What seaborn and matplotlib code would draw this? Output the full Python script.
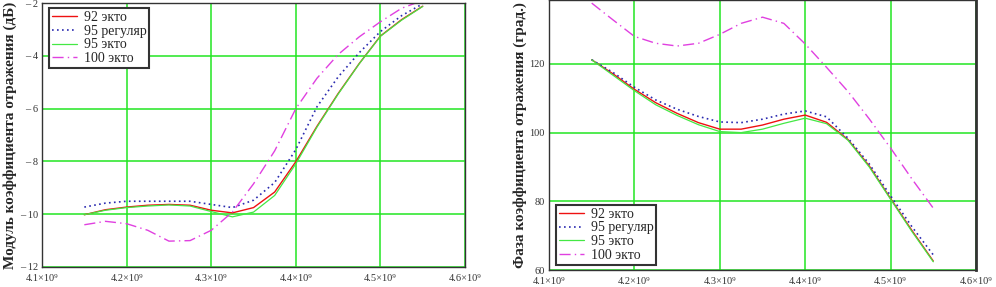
import numpy as np
import pandas as pd
import matplotlib
matplotlib.use("Agg")
import matplotlib.pyplot as plt
from matplotlib.ticker import FuncFormatter, MultipleLocator
import seaborn as sns

# frequency grid (Hz)
freq = np.array([4.15, 4.175, 4.2, 4.225, 4.25, 4.275, 4.3, 4.325, 4.35,
                 4.375, 4.4, 4.425, 4.45, 4.475, 4.5, 4.525, 4.55]) * 1e9

# modulus of reflection coefficient (dB)
mag_92_ecto = [-10.02, -9.83, -9.73, -9.66, -9.63, -9.66, -9.85, -9.95, -9.75,
               -9.16, -8.01, -6.67, -5.43, -4.29, -3.25, -2.63, -2.12]
mag_95_reg = [-9.73, -9.58, -9.51, -9.51, -9.51, -9.51, -9.63, -9.75, -9.47,
              -8.80, -7.55, -5.93, -4.80, -3.88, -3.08, -2.48, -2.03]
mag_95_ecto = [-10.02, -9.85, -9.75, -9.69, -9.65, -9.69, -9.90, -10.10, -9.92,
               -9.29, -8.09, -6.70, -5.45, -4.30, -3.26, -2.65, -2.13]
mag_100_ecto = [-10.40, -10.27, -10.36, -10.61, -11.02, -11.00, -10.61, -9.92, -8.85,
                -7.60, -6.00, -4.85, -3.95, -3.28, -2.71, -2.20, -1.90]

# phase of reflection coefficient (deg)
ph_92_ecto = [121.2, 117.1, 112.6, 108.7, 105.6, 102.9, 101.0, 101.0, 102.2,
              103.9, 105.1, 103.0, 98.0, 90.3, 80.8, 71.5, 62.6]
ph_95_reg = [121.2, 117.5, 113.2, 109.5, 106.8, 104.7, 103.1, 102.9, 103.9,
             105.4, 106.3, 104.6, 98.4, 90.9, 81.6, 72.6, 64.4]
ph_95_ecto = [121.2, 116.7, 112.2, 108.1, 105.0, 102.3, 100.3, 100.0, 101.0,
              102.7, 104.2, 102.6, 97.8, 90.0, 80.6, 71.2, 62.4]
ph_100_ecto = [137.7, 132.8, 128.0, 126.0, 125.2, 126.0, 128.6, 131.8, 133.6,
               131.8, 125.8, 119.0, 112.0, 104.0, 95.5, 86.5, 78.0]

labels = ['92 экто', '95 регуляр', '95 экто', '100 экто']
colors = ['#ee1111', '#2a2ab0', '#44e844', '#e040e0']
styles = ['-', (0, (1, 2)), '-', (0, (8, 3, 1, 3))]
widths = [1.0, 1.2, 0.9, 1.0]

sns.set_style("white")
plt.rcParams['font.family'] = ['Liberation Serif', 'DejaVu Serif']

fig = plt.figure(figsize=(9.96, 2.87), dpi=100)
ax1 = fig.add_axes([0.0422, 0.0697, 0.4247, 0.9198])
ax2 = fig.add_axes([0.5512, 0.0592, 0.4287, 0.9408])


def draw(ax, series):
    for vals, lab, c, ls, lw in zip(series, labels, colors, styles, widths):
        sns.lineplot(x=freq, y=vals, ax=ax, color=c, linestyle=ls, linewidth=lw,
                     label=lab, sort=False, estimator=None)
    ax.set_xlim(4.1e9, 4.6e9)
    ax.xaxis.set_major_locator(MultipleLocator(0.1e9))
    ax.xaxis.set_major_formatter(FuncFormatter(lambda v, p: '{:.1f}×10⁹'.format(v / 1e9)))
    ax.grid(True, color='#22e622', linewidth=1.1)
    ax.set_axisbelow(True)
    for s in ax.spines.values():
        s.set_color('#333333')
        s.set_linewidth(1.0)
    ax.tick_params(axis='both', labelsize=7.5, colors='#333333', length=2, pad=1)
    ax.tick_params(axis='x', pad=3)
    ax.set_xlabel('')


def style_legend(leg):
    leg.get_frame().set_edgecolor('#333333')
    leg.get_frame().set_linewidth(1.5)
    leg.get_frame().set_alpha(1)


legend_kw = dict(fontsize=10, frameon=True, fancybox=False, handlelength=1.8,
                 borderpad=0.2, labelspacing=0.05, handletextpad=0.5, borderaxespad=0)

draw(ax1, [mag_92_ecto, mag_95_reg, mag_95_ecto, mag_100_ecto])
ax1.set_ylim(-12, -2)
ax1.yaxis.set_major_locator(MultipleLocator(2))
ax1.yaxis.set_major_formatter(FuncFormatter(lambda v, p: '– {:d}'.format(int(round(-v)))))
ax1.set_ylabel('Модуль коэффициента отражения (дБ)', fontsize=11, fontweight='bold', labelpad=2)
style_legend(ax1.legend(loc='upper left', bbox_to_anchor=(0.016, 0.98), **legend_kw))

draw(ax2, [ph_92_ecto, ph_95_reg, ph_95_ecto, ph_100_ecto])
ax2.set_ylim(60, 138.6)
ax2.yaxis.set_major_locator(MultipleLocator(20))
ax2.yaxis.set_major_formatter(FuncFormatter(lambda v, p: '{:d}'.format(int(round(v)))))
ax2.set_ylabel('Фаза коэффициента отражения (град.)', fontsize=11, fontweight='bold', labelpad=2)
ax2.spines['right'].set_linewidth(2)
style_legend(ax2.legend(loc='lower left', bbox_to_anchor=(0.016, 0.02), **legend_kw))

fig.savefig('out.png', dpi=100)
